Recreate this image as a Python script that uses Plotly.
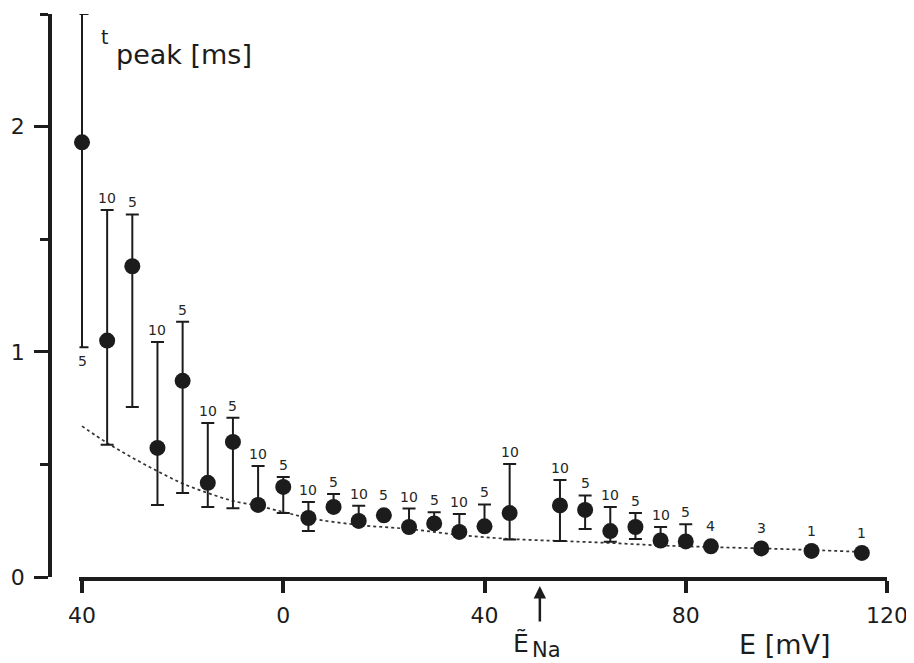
import plotly.graph_objects as go

# ---- data ----
E_mV = [-40, -35, -30, -25, -20, -15, -10, -5, 0, 5, 10, 15, 20, 25, 30, 35, 40, 45,
        55, 60, 65, 70, 75, 80, 85, 95, 105, 115]
t_peak = [1.93, 1.05, 1.38, 0.573, 0.871, 0.418, 0.60, 0.32, 0.40, 0.262, 0.311, 0.249,
          0.274, 0.222, 0.238, 0.20, 0.225, 0.284, 0.318, 0.298, 0.204, 0.222, 0.162,
          0.158, 0.136, 0.127, 0.116, 0.107]
t_upper = [2.50, 1.63, 1.61, 1.044, 1.133, 0.684, 0.707, 0.493, 0.444, 0.333, 0.369, 0.316,
           None, 0.304, 0.287, 0.28, 0.322, 0.502, 0.431, 0.362, 0.311, 0.284, 0.222,
           0.234, None, None, None, None]
t_lower = [1.02, 0.587, 0.755, 0.32, 0.373, 0.311, 0.305, None, 0.284, 0.204, None, None,
           None, None, None, None, None, 0.167, 0.16, 0.213, 0.156, 0.169, None,
           None, None, None, None, None]
n_cells = ["5", "10", "5", "10", "5", "10", "5", "10", "5", "10", "5", "10", "5", "10",
           "5", "10", "5", "10", "10", "5", "10", "5", "10", "5", "4", "3", "1", "1"]

fit_E = [-40, -35, -30, -25, -20, -15, -10, -5, 0, 5, 15, 25, 35, 45, 55, 65, 75, 85,
         95, 105, 115]
fit_t = [0.67, 0.595, 0.53, 0.47, 0.415, 0.373, 0.338, 0.316, 0.289, 0.262, 0.231,
         0.213, 0.187, 0.169, 0.16, 0.151, 0.14, 0.133, 0.127, 0.12, 0.111]

x_tickvals = [-40, 0, 40, 80, 120]
x_ticktext = ["40", "0", "40", "80", "120"]
y_tickvals = [0, 1, 2]
y_ticktext = ["0", "1", "2"]
y_minor = [0.5, 1.5, 2.5]
E_Na = 51

INK = "#1c1c1c"
LABEL = "#262626"
FONT = "DejaVu Sans"

# plot area: 847 x 563 px
PW, PH = 847, 563

err_plus = [(u - v) if u is not None else 0 for u, v in zip(t_upper, t_peak)]
err_minus = [(v - l) if l is not None else 0 for l, v in zip(t_lower, t_peak)]

fig = go.Figure()

fig.add_trace(go.Scatter(
    x=fit_E, y=fit_t, mode="lines", line=dict(color="#333333", width=1.7, dash="dot",
                                              shape="spline"),
    hoverinfo="skip", cliponaxis=False))

fig.add_trace(go.Scatter(
    x=E_mV, y=t_peak, mode="markers",
    marker=dict(size=16, color=INK),
    error_y=dict(type="data", symmetric=False, array=err_plus, arrayminus=err_minus,
                 color=INK, thickness=2, width=6.5),
    cliponaxis=False))

annotations = []
for i, (e, v, u, l, n) in enumerate(zip(E_mV, t_peak, t_upper, t_lower, n_cells)):
    if i == 0:
        annotations.append(dict(x=e, y=l, xref="x", yref="y", text=n, showarrow=False,
                                yanchor="top", yshift=-4,
                                font=dict(family=FONT, size=14, color=LABEL)))
    elif u is not None:
        annotations.append(dict(x=e, y=u, xref="x", yref="y", text=n, showarrow=False,
                                yanchor="bottom", yshift=2,
                                font=dict(family=FONT, size=14, color=LABEL)))
    else:
        annotations.append(dict(x=e, y=v, xref="x", yref="y", text=n, showarrow=False,
                                yanchor="bottom", yshift=10,
                                font=dict(family=FONT, size=14, color=LABEL)))

# axis titles / labels (paper coords relative to the plot area: left px 40, top px 14)
def px(xp):
    return (xp - 40) / PW

def py(yp):
    return (577 - yp) / PH

annotations += [
    dict(x=px(104), y=py(37), xref="paper", yref="paper", text="t", showarrow=False,
         xanchor="center", yanchor="middle", font=dict(family=FONT, size=19, color=INK)),
    dict(x=px(114), y=py(55), xref="paper", yref="paper", text="peak [ms]", showarrow=False,
         xanchor="left", yanchor="middle", font=dict(family=FONT, size=27, color=INK)),
    dict(x=px(784), y=py(644), xref="paper", yref="paper", text="E [mV]", showarrow=False,
         xanchor="center", yanchor="middle", font=dict(family=FONT, size=27, color=INK)),
    # E_Na arrow
    dict(x=E_Na, y=0, xref="x", yref="y", text="", showarrow=True, ax=0, ay=46,
         arrowhead=2, arrowsize=1, arrowwidth=2.5, arrowcolor=INK, standoff=9),
    dict(x=px(521), y=py(643), xref="paper", yref="paper", text="Ẽ",
         showarrow=False, xanchor="center", yanchor="middle",
         font=dict(family=FONT, size=25, color=INK)),
    dict(x=px(530), y=py(650), xref="paper", yref="paper", text="Na",
         showarrow=False, xanchor="left", yanchor="middle",
         font=dict(family=FONT, size=21, color=INK)),
]

x_left = -40.5
dom_start = px(82 - 0.5 * 5.031)

# the page body has an 8 px margin, so margins are reduced by 8 px to compensate
fig.update_layout(
    width=914, height=663,
    margin=dict(l=32, r=35, t=6, b=94, autoexpand=False),
    plot_bgcolor="white", paper_bgcolor="white",
    showlegend=False,
    font=dict(family=FONT, color=INK),
    annotations=annotations,
    xaxis=dict(
        domain=[dom_start, 1], range=[x_left, 120], anchor="y",
        showline=True, linewidth=3.5, linecolor=INK, showgrid=False, zeroline=False,
        ticks="outside", ticklen=12, tickwidth=3.5, tickcolor=INK,
        tickmode="array", tickvals=x_tickvals, ticktext=x_ticktext,
        tickfont=dict(family=FONT, size=22, color=INK), ticklabelstandoff=4,
        automargin=False),
    yaxis=dict(
        domain=[0, 1], range=[0, 2.5], anchor="free", position=px(50),
        showline=True, linewidth=3.5, linecolor=INK, showgrid=False, zeroline=False,
        ticks="outside", ticklen=14, tickwidth=3, tickcolor=INK,
        tickmode="array", tickvals=y_tickvals, ticktext=y_ticktext,
        tickfont=dict(family=FONT, size=22, color=INK), ticklabelstandoff=5,
        minor=dict(tickmode="array", tickvals=y_minor, ticks="outside", ticklen=8,
                   tickwidth=3, tickcolor=INK),
        automargin=False),
)

fig.write_html("out.html")
